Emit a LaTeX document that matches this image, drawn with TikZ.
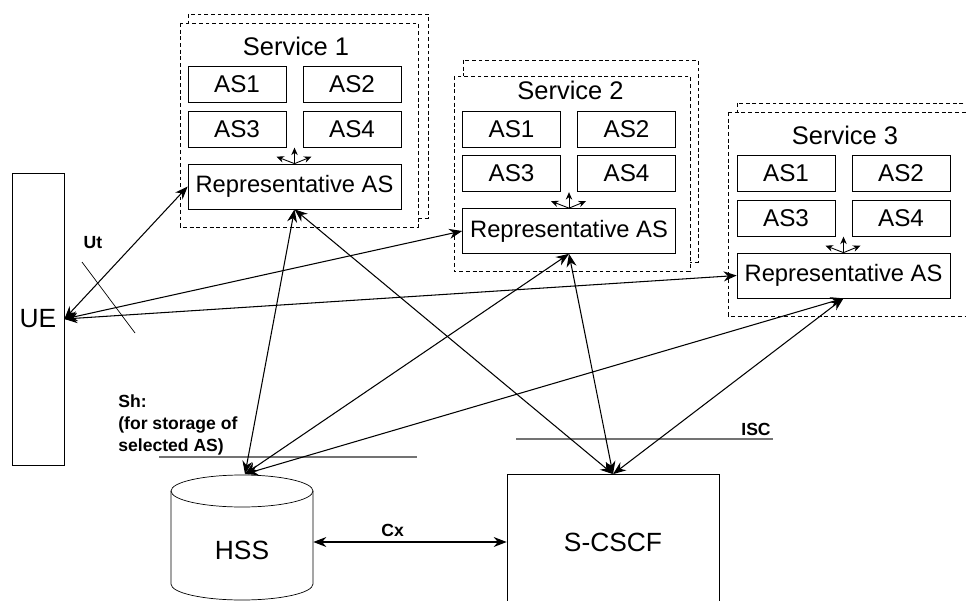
\documentclass[tikz,border=0pt]{standalone}
\usepackage{fontspec}
\setmainfont{Liberation Sans}
\usetikzlibrary{arrows.meta, positioning}

\begin{document}
\begin{tikzpicture}[
  x=0.02cm, y=-0.02cm,
  asbox/.style={draw, minimum width=1.96cm, minimum height=0.72cm,
                inner sep=0pt, font=\fontsize{13.8}{16}\selectfont},
  repbox/.style={draw, minimum width=4.26cm, minimum height=0.9cm,
                 inner sep=0pt, font=\fontsize{13.5}{16}\selectfont},
  bigtext/.style={font=\fontsize{15}{18}\selectfont},
  svctitle/.style={font=\fontsize{14.5}{17}\selectfont},
  svcframe/.style={draw, dash pattern=on 2.2pt off 1.6pt, line width=0.5pt},
  lbl/.style={inner sep=0pt, font=\bfseries\fontsize{10}{12.7}\selectfont},
  refline/.style={black!55, line width=1pt},
  arrow/.style={<->, >={Stealth[length=2.6mm, width=2mm]}, line width=0.6pt},
  tiny arrow/.style={->, >={Stealth[length=1.5mm, width=1.3mm]}, line width=0.5pt}
]
\useasboundingbox (0,0) rectangle (966,601);
\clip (0,0) rectangle (966,601);

% service frames (back copy, then front copy)
\draw[svcframe] (188,14) rectangle (428,218);
\draw[svcframe, fill=white] (180,23) rectangle (418,227);
\draw[svcframe] (463,60) rectangle (698,262);
\draw[svcframe, fill=white] (454,76) rectangle (690,271);
\draw[svcframe] (737,103) rectangle (1000,307);
\draw[svcframe, fill=white] (728,112) rectangle (1000,316);

% the application servers of each service
\foreach \s/\dx/\dy in {1/0/0, 2/274.5/44.5, 3/549/89}{
  \begin{scope}[shift={(\dx,\dy)}]
    \node[svctitle] (s\s-title) at (296,46) {Service \s};
    \node[asbox] (s\s-as1) at (237,84.5) {AS1};
    \node[asbox] (s\s-as2) at (352,84.5) {AS2};
    \node[asbox] (s\s-as3) at (237,129) {AS3};
    \node[asbox] (s\s-as4) at (352,129) {AS4};
    \node[repbox] (s\s-rep) at (294.5,186.5) {Representative AS};
  \end{scope}
  \draw[tiny arrow] (s\s-rep.north) -- ++(0,-16);
  \draw[tiny arrow] (s\s-rep.north) -- ++(-18,-7);
  \draw[tiny arrow] (s\s-rep.north) -- ++(17,-7);
}

% UE, HSS and S-CSCF
\node[draw, minimum width=1.04cm, minimum height=5.84cm, bigtext] (ue) at (38,319) {UE};
\draw (171,491) -- (171,584)
  arc[start angle=180, end angle=360, x radius=1.42cm, y radius=0.32cm] -- (313,491);
\draw (242,491) ellipse[x radius=1.42cm, y radius=0.32cm];
\node[bigtext, minimum width=2.84cm, inner sep=0pt] (hss) at (242,550) {HSS};
\coordinate (hsstop) at (245,474);
\node[draw, minimum width=4.24cm, minimum height=2.7cm, bigtext] (scscf) at (613,542) {S-CSCF};

% reference points
\draw (82,262) -- (135,333);
\node[lbl] (ut) at (93,243) {Ut};
\draw[refline] (159,457) -- (417,457);
\node[lbl, align=left, anchor=north west] (sh) at (118,394)
  {Sh:\\(for storage of\\selected AS)};
\draw[refline] (516,439) -- (773,439);
\node[lbl, anchor=south east] (isc) at (771,436) {ISC};

% interfaces
\draw[arrow] (ue.east) -- (s1-rep.west);
\draw[arrow] (ue.east) -- (s2-rep.west);
\draw[arrow] (ue.east) -- (s3-rep.west);
\foreach \s in {1,2,3}{
  \draw[arrow] (s\s-rep.south) -- (hsstop);
  \draw[arrow] (s\s-rep.south) -- (scscf.north);
}
\draw[arrow] (hss.east |- scscf.west) -- node[lbl, above=2.5pt, pos=0.41] (cx) {Cx} (scscf.west);
\end{tikzpicture}
\end{document}
